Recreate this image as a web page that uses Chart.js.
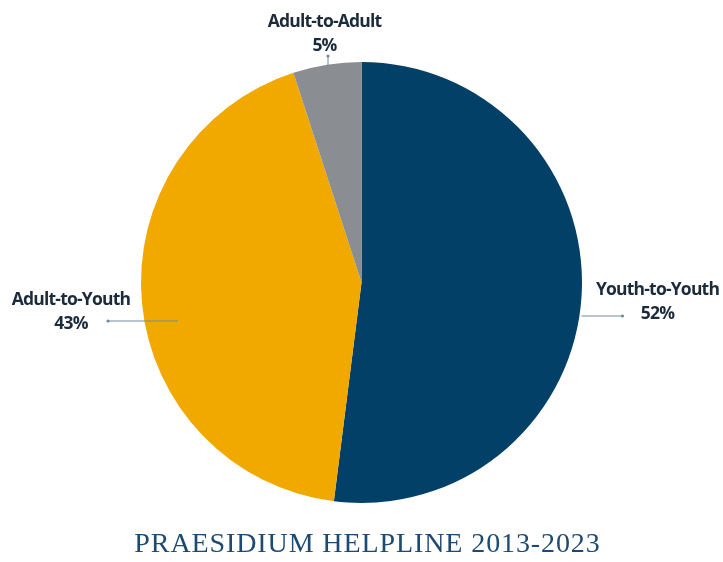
<!DOCTYPE html>
<html>
<head>
<meta charset="utf-8">
<script src="https://cdn.jsdelivr.net/npm/chart.js@4"></script>
<style>
  body { margin: 0; background: #fff; }
  #wrap { position: relative; width: 723px; height: 562px; }
  #title {
    position: absolute; left: 12px; right: 0; top: 527px;
    text-align: center;
    font-family: "Liberation Serif", serif;
    font-size: 28px; letter-spacing: 0.9px;
    color: #1d4a73;
  }
</style>
</head>
<body>
<div id="wrap">
  <canvas id="pie" width="723" height="562"></canvas>
  <div id="title">PRAESIDIUM HELPLINE 2013-2023</div>
</div>
<script>
// Helpline reports by relationship type
var categories = ['Youth-to-Youth', 'Adult-to-Youth', 'Adult-to-Adult'];
var shares = [52, 43, 5];
var colors = ['#034067', '#f1a900', '#8a8d91'];

// where each callout sits, relative to the pie centre (px)
var callouts = [
  { from: [220, 33.5], to: [261, 33.5], text: [296, 7.5] },
  { from: [-183.5, 38.5], to: [-253.5, 38.5], text: [-290.5, 17.5] },
  { from: [-33.5, -217], to: [-33.5, -226.5], text: [-37, -260.5] }
];

var calloutPlugin = {
  id: 'callouts',
  afterDatasetsDraw: function (chart) {
    var ctx = chart.ctx;
    var arcs = chart.getDatasetMeta(0).data;
    ctx.save();
    arcs.forEach(function (arc, i) {
      var c = callouts[i];
      var cx = arc.x, cy = arc.y;
      ctx.strokeStyle = '#6e8ca0';
      ctx.lineWidth = 1;
      ctx.beginPath();
      ctx.moveTo(cx + c.from[0], cy + c.from[1]);
      ctx.lineTo(cx + c.to[0], cy + c.to[1]);
      ctx.stroke();
      ctx.fillStyle = '#6e8ca0';
      ctx.beginPath();
      ctx.arc(cx + c.to[0], cy + c.to[1], 1.6, 0, Math.PI * 2);
      ctx.fill();

      ctx.fillStyle = '#1c2b3b';
      ctx.font = '700 17.5px "Open Sans", sans-serif';
      ctx.letterSpacing = '-0.8px';
      ctx.textAlign = 'center';
      ctx.textBaseline = 'middle';
      ctx.fillText(chart.data.labels[i], cx + c.text[0], cy + c.text[1]);
      ctx.fillText(chart.data.datasets[0].data[i] + '%', cx + c.text[0], cy + c.text[1] + 24);
    });
    ctx.restore();
  }
};

new Chart(document.getElementById('pie'), {
  type: 'pie',
  data: {
    labels: categories,
    datasets: [{
      data: shares,
      backgroundColor: colors,
      borderWidth: 0
    }]
  },
  options: {
    responsive: false,
    animation: false,
    layout: { padding: { top: 62, bottom: 59, left: 0, right: 0 } },
    plugins: {
      legend: { display: false },
      tooltip: { enabled: false }
    }
  },
  plugins: [calloutPlugin]
});
</script>
</body>
</html>
